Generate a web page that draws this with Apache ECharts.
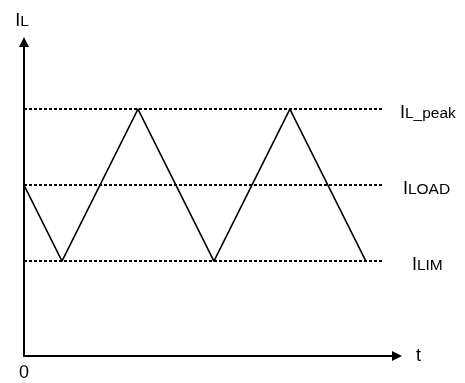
<!DOCTYPE html>
<html>
<head>
<meta charset="utf-8">
<script src="https://cdn.jsdelivr.net/npm/echarts@6/dist/echarts.min.js"></script>
<style>
  html, body { margin: 0; padding: 0; background: #fff; }
  #chart { width: 465px; height: 383px; }
</style>
</head>
<body>
<div id="chart"></div>
<script>
// inductor current waveform (arbitrary units)
var waveT = [0, 1, 3, 5, 7, 9];
var waveI = [9, 5, 13, 5, 13, 5];
// reference levels
var levelNames = ['L_peak', 'LOAD', 'LIM'];
var levelValues = [13, 9, 5];
var levelEnd = 9.45;
var labelGap = [17, 20, 29];

(function () {
    var chart = echarts.init(document.getElementById('chart'));
    var font = 'Liberation Sans, Arial, sans-serif';
    var subRich = {
        i: { fontSize: 18, lineHeight: 26, verticalAlign: 'bottom', color: '#000', fontFamily: font },
        s: { fontSize: 15.5, lineHeight: 15, verticalAlign: 'bottom', color: '#000', fontFamily: font }
    };

    var series = [];
    for (var k = 0; k < levelValues.length; k++) {
        series.push({
            type: 'line',
            symbol: 'none',
            silent: true,
            z: 2,
            lineStyle: { color: '#000', width: 2, type: [3, 2] },
            endLabel: {
                show: true,
                distance: labelGap[k],
                formatter: '{i|I}{s|' + levelNames[k] + '}',
                rich: subRich
            },
            data: [[0, levelValues[k]], [levelEnd, levelValues[k]]]
        });
    }
    var waveData = [];
    for (var i = 0; i < waveT.length; i++) {
        waveData.push([waveT[i], waveI[i]]);
    }
    series.push({
        type: 'line',
        symbol: 'none',
        silent: true,
        z: 3,
        lineStyle: { color: '#000', width: 1.6 },
        data: waveData
    });

    chart.setOption({
        animation: false,
        grid: { left: 24, right: 68, top: 42, bottom: 27, outerBoundsMode: 'none' },
        xAxis: {
            type: 'value',
            min: 0,
            max: 9.82,
            interval: 10,
            name: 't',
            nameLocation: 'end',
            nameGap: 19,
            nameTextStyle: { fontSize: 18, color: '#000', fontFamily: font },
            axisLine: { lineStyle: { color: '#000', width: 2 }, symbol: ['none', 'triangle'], symbolSize: [10, 10] },
            axisTick: { show: false },
            splitLine: { show: false },
            axisLabel: {
                margin: 8,
                fontSize: 18,
                color: '#000',
                fontFamily: font,
                showMaxLabel: false,
                formatter: function (v) { return v === 0 ? '0' : ''; }
            }
        },
        yAxis: {
            type: 'value',
            min: 0,
            max: 16.53,
            name: '{i|I}{s|L}',
            nameLocation: 'end',
            nameGap: 12,
            nameTextStyle: { fontSize: 18, color: '#000', fontFamily: font, rich: subRich, padding: [0, 4, 0, 0] },
            axisLine: { show: true, lineStyle: { color: '#000', width: 2 }, symbol: ['none', 'triangle'], symbolSize: [10, 10] },
            axisTick: { show: false },
            splitLine: { show: false },
            axisLabel: { show: false }
        },
        series: series
    });
    window.addEventListener('resize', function () { chart.resize(); });
})();
</script>
</body>
</html>
